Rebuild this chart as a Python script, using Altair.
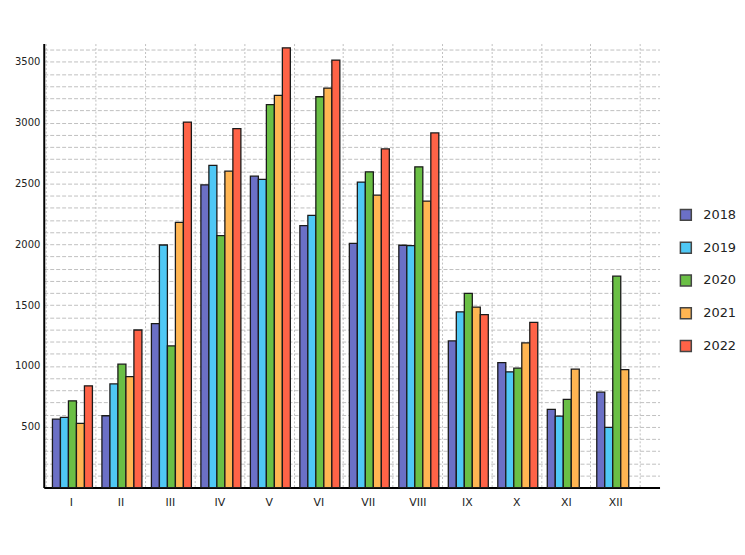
import altair as alt
import pandas as pd

months = ["I", "II", "III", "IV", "V", "VI", "VII", "VIII", "IX", "X", "XI", "XII"]
years = ["2018", "2019", "2020", "2021", "2022"]
colors = ["#6b70c6", "#4fc8f5", "#6abf45", "#ffb552", "#ff6347"]

v2018 = [563, 590, 1347, 2489, 2560, 2153, 2008, 1992, 1205, 1027, 642, 784]
v2019 = [576, 852, 1994, 2648, 2533, 2238, 2511, 1989, 1445, 951, 587, 494]
v2020 = [713, 1014, 1164, 2071, 3148, 3213, 2596, 2637, 1596, 981, 724, 1738]
v2021 = [527, 912, 2180, 2601, 3224, 3284, 2404, 2355, 1484, 1189, 973, 970]
v2022 = [836, 1295, 3005, 2951, 3615, 3514, 2784, 2915, 1421, 1358, None, None]

rows = []
for y, vals in zip(years, [v2018, v2019, v2020, v2021, v2022]):
    for m, v in zip(months, vals):
        if v is not None:
            rows.append({"month": m, "year": y, "value": v})
df = pd.DataFrame(rows)

font = "DejaVu Sans"

chart = alt.Chart(df).mark_bar(stroke="#1a1a1a", strokeWidth=1.3).encode(
    x=alt.X(
        "month:N",
        sort=months,
        scale=alt.Scale(paddingInner=0, paddingOuter=0.222, align=0.11),
        axis=alt.Axis(
            title=None, labelAngle=0, tickBand="extent", ticks=False,
            grid=True, gridDash=[2, 2], gridColor="#c0c0c0", gridWidth=1,
            domainColor="black", domainWidth=2, labelFont=font,
            labelFontSize=11, labelColor="#222", labelPadding=9,
        ),
    ),
    xOffset=alt.XOffset(
        "year:N", sort=years,
        scale=alt.Scale(paddingInner=0, paddingOuter=0.594, align=0.66),
    ),
    y=alt.Y(
        "value:Q",
        scale=alt.Scale(domain=[0, 3650], nice=False),
        axis=alt.Axis(
            title=None, values=list(range(100, 3700, 100)),
            labelExpr="datum.value % 500 === 0 ? format(datum.value, 'd') : ''",
            labelOverlap=False, ticks=False, grid=True, gridDash=[4, 2],
            gridColor="#c0c0c0", gridWidth=1, domainColor="black", domainWidth=2,
            labelFont=font, labelFontSize=10, labelColor="#222", labelPadding=4,
        ),
    ),
    color=alt.Color(
        "year:N",
        scale=alt.Scale(domain=years, range=colors),
        legend=alt.Legend(
            title=None, orient="none", legendX=640, legendY=166, padding=0,
            symbolType="square", symbolSize=121, symbolStrokeColor="#444",
            symbolStrokeWidth=1.5, rowPadding=16, labelFont=font,
            labelFontSize=13, labelColor="#222", labelOffset=11,
        ),
    ),
).properties(
    width=620,
    height=447,
    autosize=alt.AutoSizeParams(type="none"),
    padding={"left": 36, "top": 34, "right": 78, "bottom": 50},
).configure_view(stroke=None)

chart.save("out.html", embed_options={"renderer": "svg", "actions": False})
